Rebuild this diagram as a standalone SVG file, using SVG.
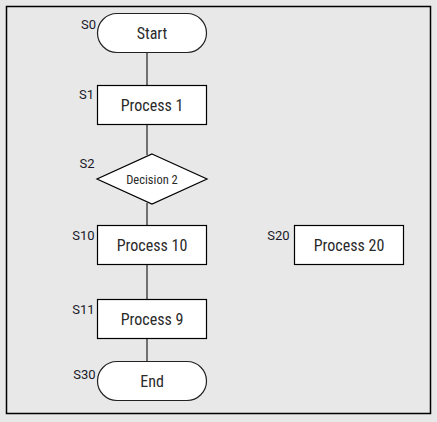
<svg xmlns="http://www.w3.org/2000/svg" width="437" height="422" viewBox="0 0 437 422">
<style>
.frame{fill:#e8e8e8;stroke:#000;stroke-width:1.5}
.box{fill:#fff;stroke:#000;stroke-width:1.2}
.term{fill:#fff;stroke:#222;stroke-width:1.2}
.conn{stroke:#707070;stroke-width:2;fill:none}
.t{font-family:"Roboto Condensed","Liberation Sans Narrow",Roboto,sans-serif;font-stretch:condensed;font-size:16px;fill:#2a2a2a;text-anchor:middle}
.ts{font-size:12.5px}
.lbl{font-family:Roboto,"Liberation Sans",sans-serif;font-size:13px;fill:#1a1a2a;text-anchor:end}
</style>
<rect x="0" y="0" width="437" height="422" fill="#e8e8e8"/>
<rect class="frame" x="6.5" y="6.5" width="424" height="407"/>
<g id="connectors">
<line class="conn" x1="147" y1="52" x2="147" y2="85"/>
<line class="conn" x1="147" y1="124" x2="147" y2="155"/>
<line class="conn" x1="147" y1="203" x2="147" y2="225"/>
<line class="conn" x1="147" y1="264" x2="147" y2="299"/>
<line class="conn" x1="147" y1="338" x2="147" y2="361"/>
</g>
<g id="S0">
<rect class="term" x="97.5" y="13.5" width="109" height="39" rx="19.5"/>
<text class="t" x="152" y="39.3">Start</text>
<text class="lbl" x="96" y="28.5">S0</text>
</g>
<g id="S1">
<rect class="box" x="97.5" y="85.5" width="109" height="39"/>
<text class="t" x="152" y="111">Process 1</text>
<text class="lbl" x="94" y="99">S1</text>
</g>
<g id="S2">
<polygon class="box" points="152,154 207,179 152,204 97,179"/>
<text class="t ts" x="152" y="184">Decision 2</text>
<text class="lbl" x="94.5" y="168">S2</text>
</g>
<g id="S10">
<rect class="box" x="97.5" y="225.5" width="109" height="39"/>
<text class="t" x="152" y="251">Process 10</text>
<text class="lbl" x="94.5" y="240">S10</text>
</g>
<g id="S11">
<rect class="box" x="97.5" y="299.5" width="109" height="39"/>
<text class="t" x="152" y="325">Process 9</text>
<text class="lbl" x="94.5" y="314">S11</text>
</g>
<g id="S30">
<rect class="term" x="97.5" y="361.5" width="109" height="39" rx="19.5"/>
<text class="t" x="152" y="387">End</text>
<text class="lbl" x="95.5" y="379">S30</text>
</g>
<g id="S20">
<rect class="box" x="294.5" y="225.5" width="109" height="39"/>
<text class="t" x="349" y="251">Process 20</text>
<text class="lbl" x="289.5" y="240">S20</text>
</g>
</svg>
